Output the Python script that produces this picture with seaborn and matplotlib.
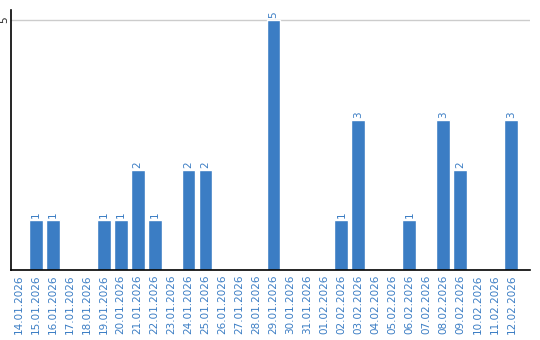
import matplotlib
matplotlib.use("Agg")
import matplotlib.pyplot as plt
import seaborn as sns
import pandas as pd

dates = ["14.01.2026", "15.01.2026", "16.01.2026", "17.01.2026", "18.01.2026",
         "19.01.2026", "20.01.2026", "21.01.2026", "22.01.2026", "23.01.2026",
         "24.01.2026", "25.01.2026", "26.01.2026", "27.01.2026", "28.01.2026",
         "29.01.2026", "30.01.2026", "31.01.2026", "01.02.2026", "02.02.2026",
         "03.02.2026", "04.02.2026", "05.02.2026", "06.02.2026", "07.02.2026",
         "08.02.2026", "09.02.2026", "10.02.2026", "11.02.2026", "12.02.2026"]
counts = [0, 1, 1, 0, 0, 1, 1, 2, 1, 0, 2, 2, 0, 0, 0, 5, 0, 0, 0, 1,
          3, 0, 0, 1, 0, 3, 2, 0, 0, 3]

sns.set_style("white")
plt.rcParams['font.family'] = ['DejaVu Sans']

df = pd.DataFrame({"date": dates, "count": counts})
blue = "#3b7dc4"

fig = plt.figure(figsize=(5.4, 3.4), dpi=100)
ax = fig.add_axes([11/540, 70/340, 519/540, 260/340])
sns.barplot(data=df, x="date", y="count", color=blue, saturation=1, width=0.82, ax=ax)

ax.set_xlim(-0.45, 30.1)
ax.set_ylim(0, 5.2)
ax.set_yticks([5])
ax.set_yticklabels(["5"], rotation=90, va="center", fontsize=7.5)
ax.yaxis.grid(True, color="#cccccc", linewidth=1)
ax.set_axisbelow(True)
ax.tick_params(axis="both", length=0, pad=1)
ax.set_xticks(range(len(dates)))
ax.set_xticklabels(dates, rotation=90, fontsize=7.5, color=blue)
ax.tick_params(axis="x", pad=3)
ax.set_xlabel("")
ax.set_ylabel("")

for s in ["top", "right"]:
    ax.spines[s].set_visible(False)
for s in ["left", "bottom"]:
    ax.spines[s].set_color("black")
    ax.spines[s].set_linewidth(1.2)

for i, v in enumerate(counts):
    if v > 0:
        ax.text(i, v + 0.04, str(v), rotation=90, ha="center", va="bottom",
                fontsize=7.5, color=blue)

fig.savefig("out.png", dpi=100)
